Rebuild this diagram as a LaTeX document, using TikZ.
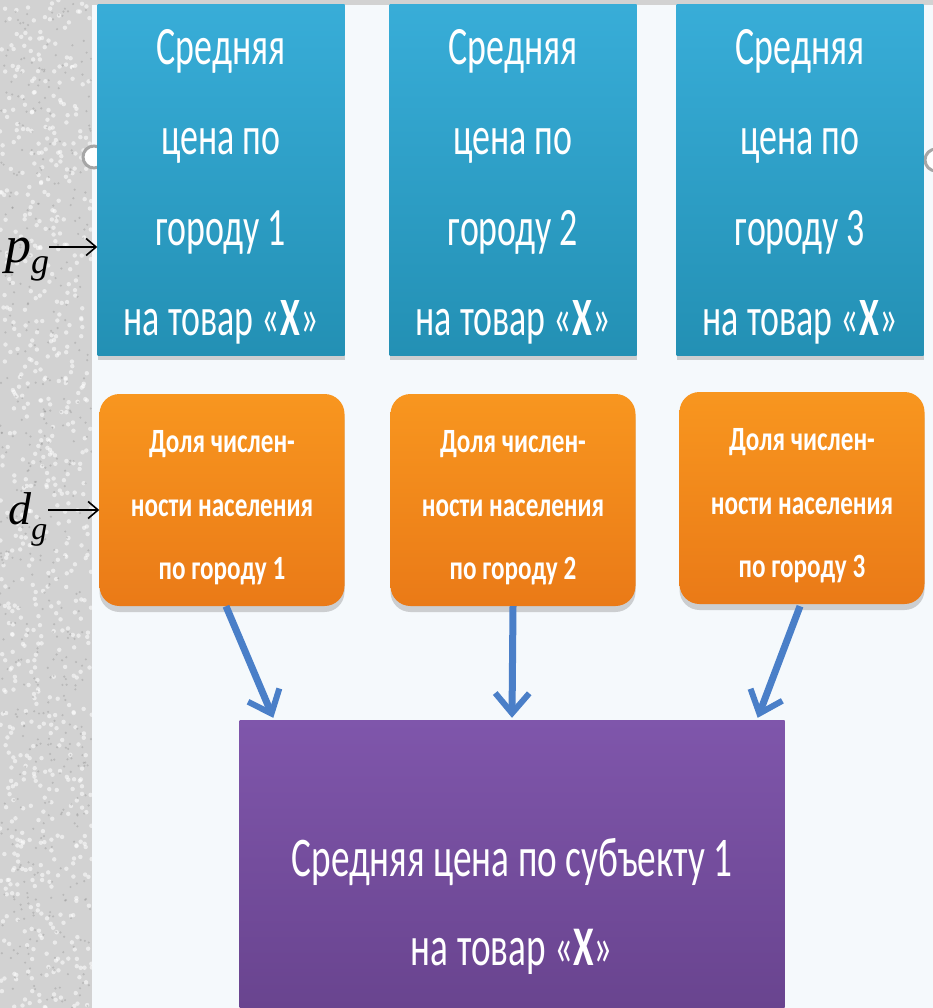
\documentclass[tikz,border=0pt]{standalone}
\usepackage{fontspec}
\setmainfont{Liberation Serif}
\newfontfamily\sqfont[FakeStretch=0.665]{Carlito}
\newfontfamily\orfont[FakeStretch=0.74]{Carlito}
\usetikzlibrary{arrows.meta,shadows,calc}
\definecolor{bgrey}{HTML}{D2D2D2}
\definecolor{slide}{HTML}{F5F9FC}
\definecolor{bluetop}{HTML}{38ADD8}
\definecolor{bluebot}{HTML}{2390B4}
\definecolor{ortop}{HTML}{F8961F}
\definecolor{orbot}{HTML}{EA7A17}
\definecolor{purtop}{HTML}{7F56AB}
\definecolor{purbot}{HTML}{69448F}
\definecolor{arrblue}{HTML}{4A7FC8}
\begin{document}
\begin{tikzpicture}[x=1pt,y=-1pt,
  bluebox/.style={rectangle, top color=bluetop, bottom color=bluebot, draw=none,
    minimum width=247pt, minimum height=350pt, inner sep=0pt,
    drop shadow={opacity=0.35, shadow xshift=0pt, shadow yshift=-5pt}},
  orbox/.style={rectangle, rounded corners=20pt, top color=ortop, bottom color=orbot, draw=none,
    minimum width=245pt, minimum height=212pt, inner sep=0pt,
    drop shadow={opacity=0.35, shadow xshift=0pt, shadow yshift=-6pt}},
  purbox/.style={rectangle, top color=purtop, bottom color=purbot, draw=none,
    minimum width=545pt, minimum height=288pt, inner sep=0pt},
  bluetext/.style={inner sep=0pt, text=white, align=center, font=\sqfont\fontsize{54}{90.5}\selectfont},
  ortext/.style={inner sep=0pt, text=white, align=center, font=\orfont\bfseries\fontsize{34}{63.5}\selectfont},
  purtext/.style={inner sep=0pt, text=white, align=center, font=\sqfont\fontsize{56}{89}\selectfont},
  flow/.style={draw=arrblue, line width=7pt, -{Straight Barb[length=20pt,width=34pt,line width=6pt]}},
  lbl/.style={inner sep=0pt},
  ptr/.style={line width=1.6pt, -{Straight Barb[length=10pt,width=17pt,line width=1.6pt]}}
]
\useasboundingbox (0,0) rectangle (933,1008);
% textured grey background
\fill[bgrey] (0,0) rectangle (933,1008);
\pgfmathsetseed{7}
\foreach \i in {1,...,700}{
  \pgfmathsetmacro{\xx}{rnd*92}
  \pgfmathsetmacro{\yy}{rnd*1008}
  \fill[white, opacity=0.55] (\xx,\yy) circle (2.2pt);
}
\foreach \i in {1,...,500}{
  \pgfmathsetmacro{\xx}{rnd*92}
  \pgfmathsetmacro{\yy}{rnd*1008}
  \fill[gray, opacity=0.3] (\xx,\yy) circle (1.2pt);
}
% slide
\fill[slide] (92,5) rectangle (933,1008);
% small slide decorations
\draw[gray!70, line width=3pt, fill=white] (94,157) circle (11pt);
\draw[gray!70, line width=3pt, fill=white] (936,160) circle (11pt);

% blue boxes
\node[bluebox] (b1) at (221,180) {};
\node[bluebox] (b2) at (513,180) {};
\node[bluebox] (b3) at (800,180) {};
\node[bluetext] (b1t) at ($(b1)+(0,7)$) {Средняя\\цена по\\городу 1\\на товар «\textbf{Х}»};
\node[bluetext] (b2t) at ($(b2)+(0,7)$) {Средняя\\цена по\\городу 2\\на товар «\textbf{Х}»};
\node[bluetext] (b3t) at ($(b3)+(0,7)$) {Средняя\\цена по\\городу 3\\на товар «\textbf{Х}»};

% orange boxes
\node[orbox] (o1) at (222,500) {};
\node[orbox] (o2) at (513,500) {};
\node[orbox] (o3) at (802,498) {};
\node[ortext] (o1t) at ($(o1)+(0,8)$) {Доля числен-\\ности населения\\по городу 1};
\node[ortext] (o2t) at ($(o2)+(0,8)$) {Доля числен-\\ности населения\\по городу 2};
\node[ortext] (o3t) at ($(o3)+(0,8)$) {Доля числен-\\ности населения\\по городу 3};

% purple box
\node[purbox] (p) at (512,864) {};
\node[purtext] (pt) at ($(p)+(0,42)$) {Средняя цена по субъекту 1\\на товар «\textbf{Х}»};

% flow arrows
\draw[flow] ($(o1.south)+(4,0)$) -- ($(p.north west)+(34,-2)$);
\draw[flow] (o2.south) -- ($(p.north)+(0,-2)$);
\draw[flow] ($(o3.south)+(-2,2)$) -- ($(p.north east)+(-27,-2)$);

% labels p_g and d_g
\node[lbl, anchor=base west] (pg) at (5,262) {\fontsize{52}{52}\selectfont\textit{p}\raisebox{-11pt}{\fontsize{36}{36}\selectfont\textit{g}}};
\coordinate (pa) at (49,247);
\draw[ptr] (pa) -- (pa -| b1.west);
\node[lbl, anchor=base west] (dg) at (8,524) {\fontsize{46}{46}\selectfont\textit{d}\raisebox{-15pt}{\fontsize{32}{32}\selectfont\textit{g}}};
\coordinate (da) at (48,510);
\draw[ptr] (da) -- (da -| o1.west);
\end{tikzpicture}
\end{document}
